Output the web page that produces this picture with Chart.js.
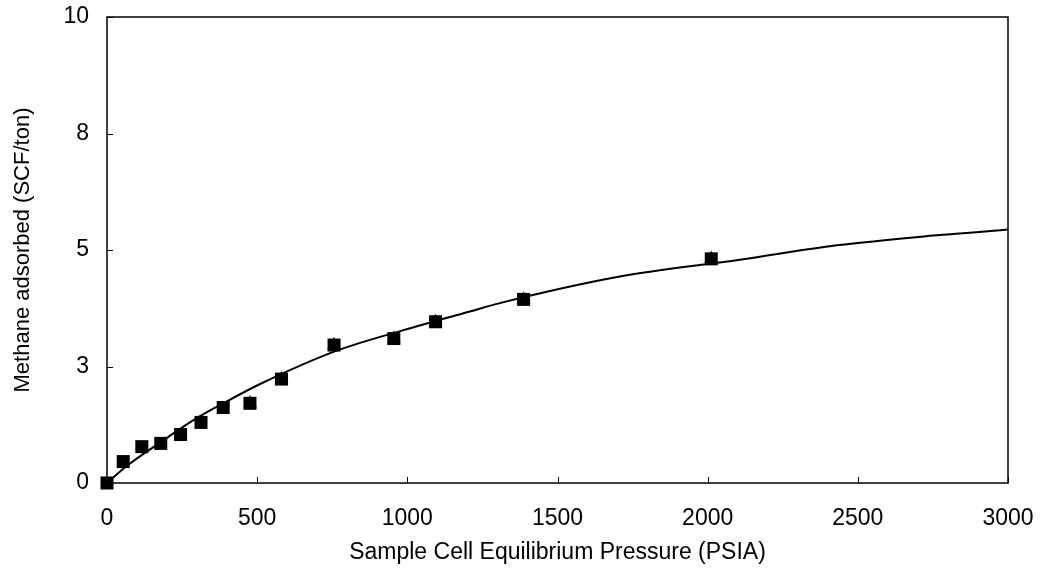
<!DOCTYPE html>
<html>
<head>
<meta charset="utf-8">
<script src="https://cdn.jsdelivr.net/npm/chart.js@4"></script>
<style>
  body { margin: 0; background: #fff; }
  #wrap { width: 1040px; height: 568px; }
</style>
</head>
<body>
<div id="wrap"><canvas id="isoterma"></canvas></div>
<script>
// measured points (pressure psia, scf/ton)
const presionMedida = [0, 54, 116, 179, 245, 313, 387, 476, 581, 756, 955, 1094, 1387, 2012]
const volumenMedido = [0, 0.46, 0.78, 0.85, 1.04, 1.30, 1.62, 1.71, 2.23, 2.96, 3.10, 3.46, 3.94, 4.81]

// second marker series (triangles peeking above the squares)
const presionTriangulo = [476, 581, 756, 955, 1094, 1387, 2012]
const volumenTriangulo = [1.71, 2.23, 2.96, 3.10, 3.46, 3.94, 4.81]

// fitted curve
const presionCurva = [0, 71, 182, 293, 404, 515, 765, 987, 1208, 1308, 1708, 2107, 2430, 2752, 3000, 3025]
const volumenCurva = [0, 0.39, 0.89, 1.37, 1.77, 2.14, 2.84, 3.28, 3.68, 3.86, 4.43, 4.79, 5.10, 5.31, 5.44, 5.46]

const xTicks = [0, 500, 1000, 1500, 2000, 2500, 3000]

const toXY = (xs, ys) => xs.map((x, i) => ({ x: x, y: ys[i] }))

const fuente = { family: 'Arial, "Liberation Sans", sans-serif', size: 23 }

// box around plot + inward tick marks
const marcoPlugin = {
    id: 'marco',
    afterDraw(chart) {
        const { ctx, chartArea: a, scales } = chart
        ctx.save()
        ctx.strokeStyle = '#000'
        ctx.lineWidth = 1.5
        ctx.strokeRect(a.left, a.top, a.right - a.left, a.bottom - a.top)
        ctx.lineWidth = 1
        ctx.beginPath()
        scales.x.ticks.forEach(t => {
            const px = Math.round(scales.x.getPixelForValue(t.value)) + 0.5
            ctx.moveTo(px, a.bottom)
            ctx.lineTo(px, a.bottom - 6)
        })
        scales.y.ticks.forEach(t => {
            const py = Math.round(scales.y.getPixelForValue(t.value)) + 0.5
            ctx.moveTo(a.left, py)
            ctx.lineTo(a.left + 6, py)
        })
        ctx.stroke()
        ctx.restore()
    }
}

const config = {
    type: 'scatter',
    data: {
        datasets: [
            {
                label: 'curva',
                data: toXY(presionCurva, volumenCurva),
                showLine: true,
                borderColor: '#000',
                borderWidth: 2,
                pointRadius: 0,
                cubicInterpolationMode: 'monotone',
                clip: false,
                order: 1
            },
            {
                label: 'triangulos',
                data: toXY(presionTriangulo, volumenTriangulo),
                pointStyle: 'triangle',
                pointRadius: 8,
                backgroundColor: '#000',
                borderColor: '#000',
                borderWidth: 0,
                clip: false,
                order: 3
            },
            {
                label: 'medidos',
                data: toXY(presionMedida, volumenMedido),
                pointStyle: 'rect',
                pointRadius: 9.2,
                backgroundColor: '#000',
                borderColor: '#000',
                borderWidth: 0,
                clip: false,
                order: 2
            }
        ]
    },
    options: {
        responsive: true,
        maintainAspectRatio: false,
        animation: false,
        layout: { padding: { left: 0, top: 17, right: 32, bottom: 0 } },
        plugins: { legend: { display: false }, tooltip: { enabled: false } },
        scales: {
            x: {
                type: 'linear',
                min: 0,
                max: 3000,
                afterBuildTicks: (s) => { s.ticks = xTicks.map(v => ({ value: v })) },
                ticks: { color: '#000', font: fuente, padding: 22, maxRotation: 0, callback: (v) => String(v) },
                grid: { drawOnChartArea: false, drawTicks: false },
                border: { display: false },
                title: {
                    display: true,
                    text: 'Sample Cell Equilibrium Pressure (PSIA)',
                    color: '#000',
                    font: fuente,
                    padding: { top: 4, bottom: 2 }
                },
                afterFit: (s) => {
                    s.height = 85
                    s.paddingLeft = 0
                    s.paddingRight = 0
                }
            },
            y: {
                min: 0,
                max: 10,
                ticks: {
                    stepSize: 2.5,
                    color: '#000',
                    font: fuente,
                    padding: 18,
                    callback: (v) => Math.round(v)
                },
                grid: { drawOnChartArea: false, drawTicks: false },
                border: { display: false },
                title: {
                    display: true,
                    text: 'Methane adsorbed (SCF/ton)',
                    color: '#000',
                    font: { family: fuente.family, size: 22 },
                    padding: { top: 10, bottom: 4 }
                },
                afterFit: (s) => {
                    s.width = 107
                    s.paddingTop = 0
                    s.paddingBottom = 0
                }
            }
        }
    },
    plugins: [marcoPlugin]
}

new Chart(document.querySelector('#isoterma'), config)
</script>
</body>
</html>
